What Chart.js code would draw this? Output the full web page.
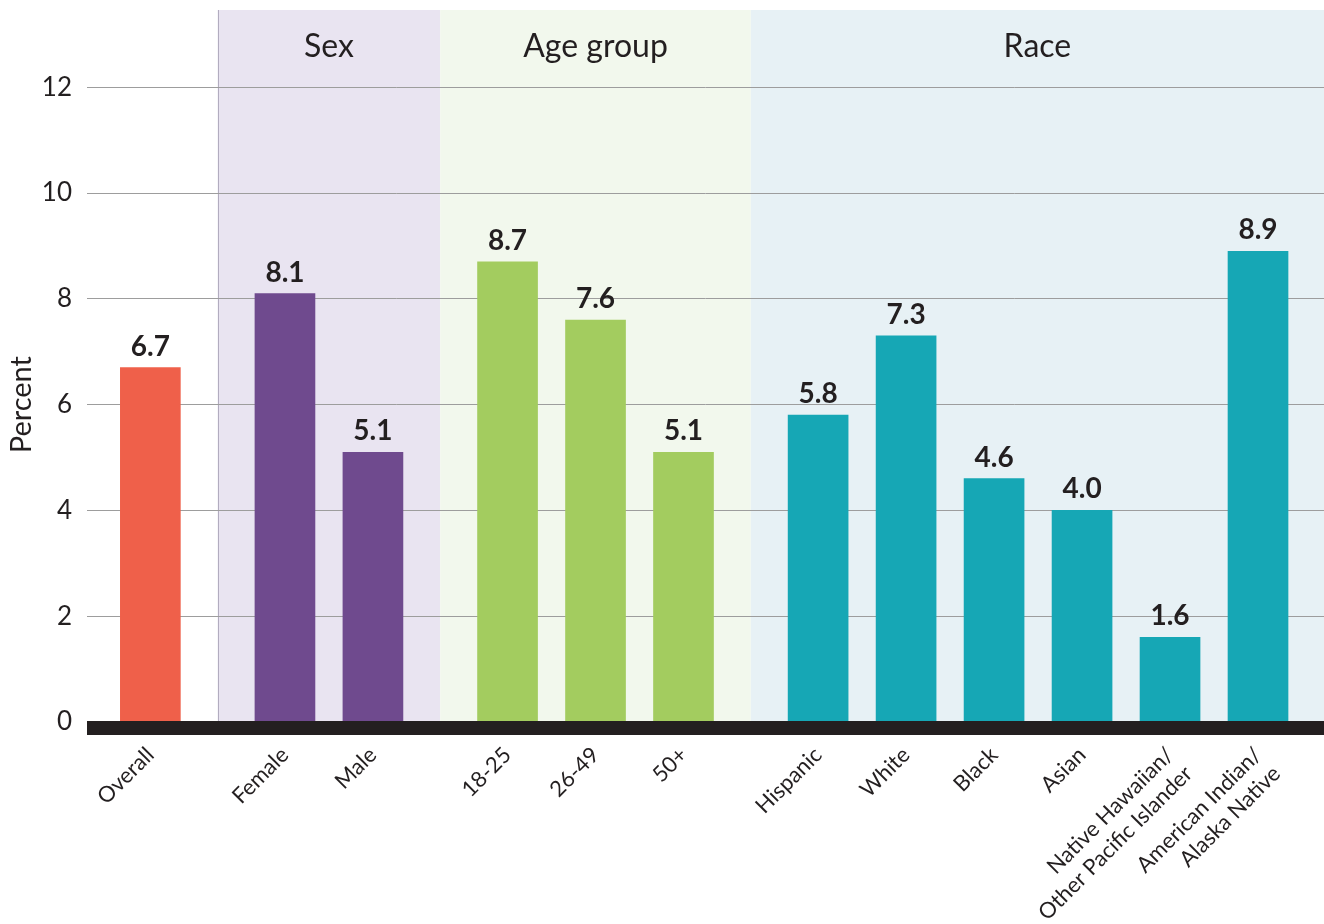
<!DOCTYPE html>
<html>
<head>
<meta charset="utf-8">
<script src="https://cdn.jsdelivr.net/npm/chart.js@4.4.0/dist/chart.umd.min.js"></script>
<style>
  html, body { margin: 0; padding: 0; background: #fff; }
  #wrap { width: 1324px; height: 924px; position: relative; }
</style>
</head>
<body>
<div id="wrap"><canvas id="chart"></canvas></div>
<script>
// data
const categories = [
  'Overall',
  'Female', 'Male',
  '18-25', '26-49', '50+',
  'Hispanic', 'White', 'Black', 'Asian',
  ['Native Hawaiian/', 'Other Pacific Islander'],
  ['American Indian/', 'Alaska Native'],
];
const values = [6.7, 8.1, 5.1, 8.7, 7.6, 5.1, 5.8, 7.3, 4.6, 4.0, 1.6, 8.9];
const groupOf = [0, 1, 1, 2, 2, 2, 3, 3, 3, 3, 3, 3];
const groupNames = ['', 'Sex', 'Age group', 'Race'];
const yTicks = [0, 2, 4, 6, 8, 10, 12];
const yTitle = 'Percent';

const COLORS = {
  bars: ['#ef604a', '#6f4a8e', '#a3cc5f', '#16a7b5'],
  bands: ['rgba(0,0,0,0)', '#e9e4f1', '#f2f8ed', '#e7f1f5'],
  ink: '#231f20',
  grid: '#9d9d9d',
};
const FONT = 'Lato, "Open Sans", sans-serif';
const GAP = 0.53;

const xPos = categories.map((c, i) => i + groupOf[i] * GAP);
const xMin = -0.72;
const xMax = xPos[xPos.length - 1] + 0.75;

const bandsPlugin = {
  id: 'bands',
  beforeDraw(chart) {
    const { ctx, chartArea } = chart;
    const x = chart.scales.x, y = chart.scales.y;
    const y0 = y.getPixelForValue(0);
    for (let g = 1; g < groupNames.length; g++) {
      const idx = groupOf.map((v, i) => v === g ? i : -1).filter(i => i >= 0);
      const first = idx[0], last = idx[idx.length - 1];
      const left = x.getPixelForValue((xPos[first - 1] + xPos[first]) / 2);
      const right = last === xPos.length - 1 ? chartArea.right
        : x.getPixelForValue((xPos[last] + xPos[last + 1]) / 2);
      ctx.save();
      ctx.fillStyle = COLORS.bands[g];
      ctx.fillRect(left, chartArea.top, right - left, y0 - chartArea.top);
      if (g === 1) {
        ctx.strokeStyle = '#b2acbf';
        ctx.lineWidth = 1;
        ctx.beginPath();
        ctx.moveTo(Math.round(left) + 0.5, chartArea.top);
        ctx.lineTo(Math.round(left) + 0.5, y0);
        ctx.stroke();
      }
      ctx.fillStyle = COLORS.ink;
      ctx.font = '32px ' + FONT;
      ctx.textAlign = 'center';
      ctx.textBaseline = 'alphabetic';
      ctx.fillText(groupNames[g], (left + right) / 2, 57);
      ctx.restore();
    }
    // axis title, centred on the ticked range
    const mid = (y.getPixelForValue(yTicks[0]) + y.getPixelForValue(yTicks[yTicks.length - 1])) / 2;
    ctx.save();
    ctx.translate(22, mid);
    ctx.rotate(-Math.PI / 2);
    ctx.fillStyle = COLORS.ink;
    ctx.font = '29px ' + FONT;
    ctx.textAlign = 'center';
    ctx.textBaseline = 'middle';
    ctx.fillText(yTitle, 0, 0);
    ctx.restore();
  },
  afterDatasetsDraw(chart) {
    const { ctx, chartArea } = chart;
    const y0 = chart.scales.y.getPixelForValue(0);
    ctx.save();
    ctx.fillStyle = COLORS.ink;
    ctx.fillRect(chartArea.left, y0 - 1, chartArea.right - chartArea.left, 14);
    ctx.font = 'bold 28px ' + FONT;
    ctx.textAlign = 'center';
    ctx.textBaseline = 'alphabetic';
    chart.getDatasetMeta(0).data.forEach((bar, i) => {
      ctx.fillText(values[i].toFixed(1), bar.x, bar.y - 12);
    });
    ctx.restore();
  },
};

new Chart(document.getElementById('chart'), {
  type: 'bar',
  data: {
    datasets: [{
      data: values.map((v, i) => ({ x: xPos[i], y: v })),
      backgroundColor: values.map((v, i) => COLORS.bars[groupOf[i]]),
      barThickness: 60,
      borderWidth: 0,
    }],
  },
  options: {
    responsive: true,
    maintainAspectRatio: false,
    animation: false,
    layout: { padding: { top: 10, right: 0, left: 0, bottom: 0 } },
    plugins: {
      legend: { display: false },
      tooltip: { enabled: false },
    },
    scales: {
      x: {
        type: 'linear',
        min: xMin,
        max: xMax,
        offset: false,
        grid: { display: false },
        border: { display: false },
        afterBuildTicks(scale) {
          scale.ticks = xPos.map(v => ({ value: v }));
        },
        afterFit(scale) {
          scale.height = 202;
          scale.paddingLeft = 0;
          scale.paddingRight = 0;
        },
        ticks: {
          autoSkip: false,
          minRotation: 45,
          maxRotation: 45,
          padding: 12,
          color: COLORS.ink,
          font: { family: FONT, size: 22 },
          callback: (value, index) => categories[index],
        },
      },
      y: {
        min: 0,
        max: 13.46,
        afterBuildTicks(scale) {
          scale.ticks = yTicks.map(v => ({ value: v }));
        },
        afterFit(scale) {
          scale.width = 87;
          scale.paddingTop = 0;
          scale.paddingBottom = 0;
        },
        grid: { color: COLORS.grid, lineWidth: 1, drawTicks: false },
        border: { display: false },
        ticks: {
          padding: 15,
          color: COLORS.ink,
          font: { family: FONT, size: 26 },
        },
      },
    },
  },
  plugins: [bandsPlugin],
});
</script>
</body>
</html>
